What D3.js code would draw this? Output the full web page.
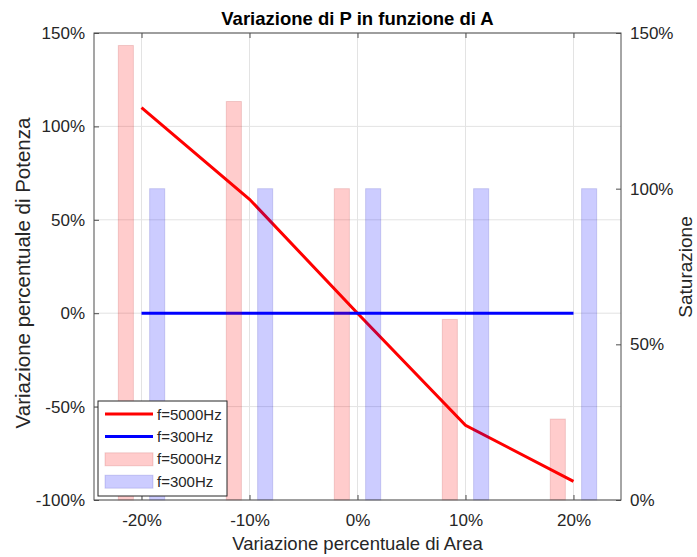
<!DOCTYPE html>
<html>
<head>
<meta charset="utf-8">
<script src="https://cdn.jsdelivr.net/npm/d3@7"></script>
<style>
  body { margin: 0; background: #fff; }
  svg { font-family: "Liberation Sans", Arial, sans-serif; }
</style>
</head>
<body>
<div id="chart"></div>
<script>
const areaSteps = [-20, -10, 0, 10, 20];
const powerHigh = [110, 61, 0, -60, -90];   // f=5000Hz, left axis
const powerLow = [0, 0, 0, 0, 0];           // f=300Hz, left axis
const satHigh = [146, 128, 100, 58, 26];    // f=5000Hz, right axis
const satLow = [100, 100, 100, 100, 100];   // f=300Hz, right axis
const leftTicks = [-100, -50, 0, 50, 100, 150];
const rightTicks = [0, 50, 100, 150];
const legendLabels = ["f=5000Hz", "f=300Hz", "f=5000Hz", "f=300Hz"];

const width = 697, height = 557;
const margins = { top: 33, right: 76, bottom: 57, left: 94 };
const w = width - margins.left - margins.right;
const h = height - margins.top - margins.bottom;
const axisColor = "#262626";
const boxColor = "#4d4d4d";

const svg = d3.select("#chart").append("svg")
  .attr("width", width).attr("height", height);
const g = svg.append("g").attr("transform", `translate(${margins.left},${margins.top})`);

const x = d3.scaleLinear().domain([-24.4, 24.4]).range([0, w]);
const yL = d3.scaleLinear().domain([-100, 150]).range([h, 0]);
const yR = d3.scaleLinear().domain([0, 150]).range([h, 0]);
const pct = d => d + "%";

// grid
g.append("g").selectAll("line").data(areaSteps).join("line")
  .attr("x1", d => x(d)).attr("x2", d => x(d)).attr("y1", 0).attr("y2", h)
  .attr("stroke", "#e3e3e3").attr("stroke-width", 1);
g.append("g").selectAll("line").data(leftTicks).join("line")
  .attr("x1", 0).attr("x2", w).attr("y1", d => yL(d)).attr("y2", d => yL(d))
  .attr("stroke", "#e3e3e3").attr("stroke-width", 1);

// lines
const line = d3.line().x(d => x(d[0])).y(d => yL(d[1]));
g.append("path").datum(areaSteps.map((a, i) => [a, powerHigh[i]]))
  .attr("d", line).attr("fill", "none").attr("stroke", "#ff0000").attr("stroke-width", 3);
g.append("path").datum(areaSteps.map((a, i) => [a, powerLow[i]]))
  .attr("d", line).attr("fill", "none").attr("stroke", "#0000ff").attr("stroke-width", 3);

// bars (right axis)
const off = 1.45, bw = 1.4;
g.append("g").selectAll("rect").data(areaSteps).join("rect")
  .attr("x", d => x(d - off - bw / 2)).attr("width", x(bw) - x(0))
  .attr("y", (d, i) => yR(satHigh[i])).attr("height", (d, i) => h - yR(satHigh[i]))
  .attr("fill", "rgba(255,0,0,0.2)").attr("stroke", "rgba(160,0,0,0.15)");
g.append("g").selectAll("rect").data(areaSteps).join("rect")
  .attr("x", d => x(d + off - bw / 2)).attr("width", x(bw) - x(0))
  .attr("y", (d, i) => yR(satLow[i])).attr("height", (d, i) => h - yR(satLow[i]))
  .attr("fill", "rgba(0,0,255,0.2)").attr("stroke", "rgba(0,0,160,0.15)");

// axes
const styleAxis = sel => {
  sel.select(".domain").remove();
  sel.selectAll("line").attr("stroke", boxColor);
  sel.selectAll("text").attr("fill", axisColor).style("font-size", "17px");
};
g.append("g").attr("transform", `translate(0,${h})`)
  .call(d3.axisBottom(x).tickValues(areaSteps).tickFormat(pct).tickSizeInner(-5).tickSizeOuter(0).tickPadding(14))
  .call(styleAxis);
g.append("g")
  .call(d3.axisTop(x).tickValues(areaSteps).tickFormat("").tickSizeInner(-5).tickSizeOuter(0))
  .call(styleAxis);
g.append("g")
  .call(d3.axisLeft(yL).tickValues(leftTicks).tickFormat(pct).tickSizeInner(-5).tickSizeOuter(0).tickPadding(9))
  .call(styleAxis);
g.append("g").attr("transform", `translate(${w},0)`)
  .call(d3.axisRight(yR).tickValues(rightTicks).tickFormat(pct).tickSizeInner(-5).tickSizeOuter(0).tickPadding(9))
  .call(styleAxis);
g.append("rect").attr("width", w).attr("height", h)
  .attr("fill", "none").attr("stroke", boxColor).attr("stroke-width", 1);

// labels
svg.append("text").attr("x", margins.left + w / 2).attr("y", 25)
  .attr("text-anchor", "middle").style("font-size", "18.5px").style("font-weight", "bold")
  .attr("fill", "#000").text("Variazione di P in funzione di A");
svg.append("text").attr("x", margins.left + w / 2).attr("y", 550)
  .attr("text-anchor", "middle").style("font-size", "18.5px").attr("fill", axisColor)
  .text("Variazione percentuale di Area");
svg.append("text").attr("transform", `translate(30,273) rotate(-90)`)
  .attr("text-anchor", "middle").style("font-size", "20.5px").attr("fill", axisColor)
  .text("Variazione percentuale di Potenza");
svg.append("text").attr("transform", `translate(692,267) rotate(-90)`)
  .attr("text-anchor", "middle").style("font-size", "19px").attr("fill", axisColor)
  .text("Saturazione");

// legend
const lg = svg.append("g").attr("transform", "translate(98,401)");
lg.append("rect").attr("width", 129).attr("height", 95)
  .attr("fill", "#fff").attr("stroke", axisColor).attr("stroke-width", 1);
const items = lg.selectAll("g.item").data(legendLabels).join("g")
  .attr("transform", (d, i) => `translate(0,${13 + i * 22.4})`);
items.filter((d, i) => i < 2).append("line")
  .attr("x1", 7).attr("x2", 55).attr("y1", 0).attr("y2", 0)
  .attr("stroke", (d, i) => i === 0 ? "#ff0000" : "#0000ff").attr("stroke-width", 3);
items.filter((d, i) => i >= 2).append("rect")
  .attr("x", 7).attr("y", -6).attr("width", 48).attr("height", 13)
  .attr("fill", (d, i) => i === 0 ? "rgba(255,0,0,0.2)" : "rgba(0,0,255,0.2)")
  .attr("stroke", (d, i) => i === 0 ? "rgba(160,0,0,0.15)" : "rgba(0,0,160,0.15)");
items.append("text").attr("x", 59).attr("y", 5.5)
  .style("font-size", "15px").attr("fill", axisColor).text(d => d);
</script>
</body>
</html>
